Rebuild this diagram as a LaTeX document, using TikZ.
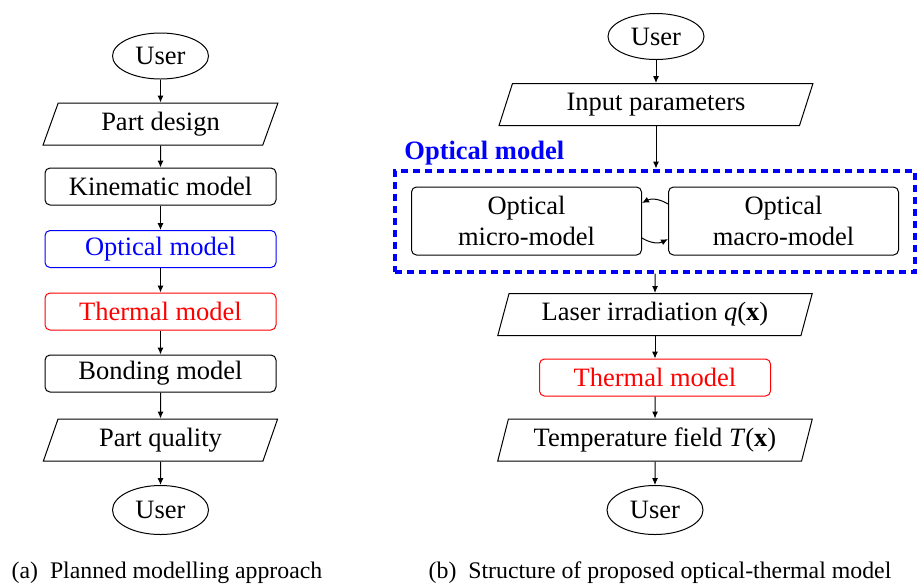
\documentclass[tikz,border=0pt]{standalone}
\usepackage{fontspec}
\setmainfont{Liberation Serif}
\usetikzlibrary{shapes.geometric,arrows.meta,positioning,fit}
\tikzset{
  fcuser/.style={
    ellipse, draw, line width=0.5pt,
    minimum width=48pt, minimum height=23pt, inner sep=0pt
  },
  fcdata/.style={
    trapezium, trapezium left angle=70, trapezium right angle=110,
    trapezium stretches=true, draw, line width=0.5pt,
    minimum width=117.5pt, minimum height=21pt, inner sep=0pt
  },
  fcmodel/.style={
    rectangle, rounded corners=2.5pt, draw, line width=0.5pt,
    minimum width=115.5pt, minimum height=18.5pt, inner sep=0pt
  },
  fcoptic/.style={
    fcmodel, minimum width=115pt, minimum height=34pt, align=center
  },
  fcgroup/.style={
    draw=blue, line width=2pt, dash pattern=on 3.5pt off 2.5pt,
    inner sep=8pt
  },
  fcarrow/.style={
    -{Latex[length=3.5pt,width=3pt]}, line width=0.5pt
  },
  fccaption/.style={
    font=\fontsize{11.9}{14}\selectfont, anchor=base
  },
}

\begin{document}
\begin{tikzpicture}[
  x=0.5pt, y=-0.5pt,
  font=\fontsize{13.25}{15.5}\selectfont,
  on grid, node distance=31.25pt
]
  \useasboundingbox (0,0) rectangle (917,586);

  \node[fcuser] (userA) at (160.5,56) {User};
  \node[fcdata, below=34pt of userA] (design) {Part design};
  \node[fcmodel, below=of design] (kinem) {Kinematic model};
  \node[fcmodel, draw=blue, text=blue, below=of kinem] (opticA) {Optical model};
  \node[fcmodel, draw=red, text=red, below=of opticA] (thermA) {Thermal model};
  \node[fcmodel, below=31pt of thermA] (bond) {Bonding model};
  \node[fcdata, below=33.25pt of bond] (quality) {Part quality};
  \node[fcuser, minimum height=24.5pt, below=35pt of quality] (userA2) {User};

  \node[fcuser] (userB) at (656,36.5) {User};
  \node[fcdata, minimum width=157.5pt, below=34pt of userB] (input) {Input parameters};
  \node[fcoptic, below=58.25pt of input, xshift=-64.75pt] (micro) {Optical\\micro-model};
  \node[fcoptic, right=128.5pt of micro] (macro) {Optical\\macro-model};
  \node[fcgroup, fit=(micro)(macro)] (optgroup) {};
  \node[anchor=base west, inner sep=0pt, text=blue, font=\fontsize{13.25}{15.5}\selectfont\bfseries,
        xshift=5.5pt, yshift=4.5pt] (grouplabel) at (optgroup.north west) {Optical model};
  \node[fcdata, minimum width=157.5pt, below=46.75pt of optgroup] (laser) {Laser irradiation \textit{q}(\textbf{x})};
  \node[fcmodel, draw=red, text=red, below=31.5pt of laser] (thermB) {Thermal model};
  \node[fcdata, minimum width=157.5pt, below=of thermB] (tempfield) {Temperature field \textit{T}(\textbf{x})};
  \node[fcuser, minimum height=24.5pt, below=35pt of tempfield] (userB2) {User};

  \draw[fcarrow] (userA) -- (design);
  \draw[fcarrow] (design) -- (kinem);
  \draw[fcarrow] (kinem) -- (opticA);
  \draw[fcarrow] (opticA) -- (thermA);
  \draw[fcarrow] (thermA) -- (bond);
  \draw[fcarrow] (bond) -- (quality);
  \draw[fcarrow] (quality) -- (userA2);

  \draw[fcarrow] (userB) -- (input);
  \draw[fcarrow] (input) -- (input |- optgroup.north);
  \draw[fcarrow] ([yshift=8.5pt]macro.west) to[bend right=30] ([yshift=9pt]micro.east);
  \draw[fcarrow] ([yshift=-8.5pt]micro.east) to[bend right=30] ([yshift=-9pt]macro.west);
  \draw[fcarrow] (laser |- optgroup.south) -- (laser);
  \draw[fcarrow] (laser) -- (thermB);
  \draw[fcarrow] (thermB) -- (tempfield);
  \draw[fcarrow] (tempfield) -- (userB2);

  \node[fccaption] (capA) at (167,578) {(a)\ \ Planned modelling approach};
  \node[fccaption] (capB) at (660,578) {(b)\ \ Structure of proposed optical-thermal model};

\end{tikzpicture}
\end{document}
